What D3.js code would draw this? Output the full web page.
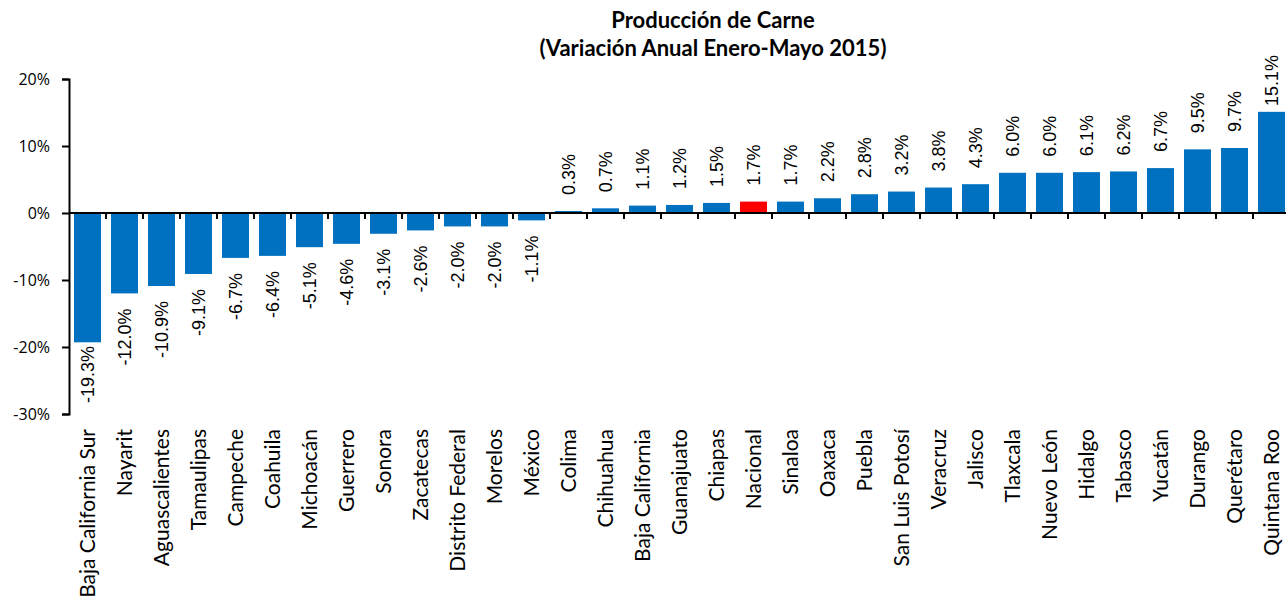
<!DOCTYPE html>
<html lang="es">
  <head>
    <meta charset="UTF-8" />
    <title>Producción de Carne</title>
    <script src="https://cdn.jsdelivr.net/npm/d3@7"></script>
    <style>
      body { margin: 0; background: #fff; }
      text { fill: #000; }
      .cat { font-family: Lato, sans-serif; font-size: 21px; }
      .val { font-family: "Liberation Sans", Arial, sans-serif; font-size: 18px; }
      .titulo { font-family: Lato, sans-serif; font-weight: bold; font-size: 22px; }
    </style>
  </head>
  <body>
    <svg id="chart" width="1286" height="602"></svg>
    <script>
      // data
      let estados = ["Baja California Sur", "Nayarit", "Aguascalientes", "Tamaulipas", "Campeche",
        "Coahuila", "Michoacán", "Guerrero", "Sonora", "Zacatecas", "Distrito Federal", "Morelos",
        "México", "Colima", "Chihuahua", "Baja California", "Guanajuato", "Chiapas", "Nacional",
        "Sinaloa", "Oaxaca", "Puebla", "San Luis Potosí", "Veracruz", "Jalisco", "Tlaxcala",
        "Nuevo León", "Hidalgo", "Tabasco", "Yucatán", "Durango", "Querétaro", "Quintana Roo"];
      let variacion = [-19.3, -12.0, -10.9, -9.1, -6.7, -6.4, -5.1, -4.6, -3.1, -2.6, -2.0, -2.0,
        -1.1, 0.3, 0.7, 1.1, 1.2, 1.5, 1.7, 1.7, 2.2, 2.8, 3.2, 3.8, 4.3, 6.0, 6.0, 6.1, 6.2, 6.7,
        9.5, 9.7, 15.1];
      let yTicks = [-30, -20, -10, 0, 10, 20];
      let titulo = ["Producción de Carne", "(Variación Anual Enero-Mayo 2015)"];

      let data = estados.map((d, i) => ({ estado: d, valor: variacion[i] }));

      let svg = d3.select("#chart");
      let margin = { left: 69, right: -4, top: 79, bottom: 188 };
      let W = 1286, H = 602;

      let x = d3.scaleBand()
        .domain(estados)
        .range([margin.left, W - margin.right])
        .paddingInner(0.27)
        .paddingOuter(0.135);

      let y = d3.scaleLinear()
        .domain([-30, 20])
        .range([H - margin.bottom, margin.top]);

      // title
      svg.append("g")
        .selectAll("text")
        .data(titulo)
        .join("text")
        .attr("class", "titulo")
        .attr("x", 713)
        .attr("y", (d, i) => 28 + i * 28)
        .attr("text-anchor", "middle")
        .text(d => d);

      // bars
      svg.append("g")
        .selectAll("rect")
        .data(data)
        .join("rect")
        .attr("x", d => x(d.estado))
        .attr("width", x.bandwidth())
        .attr("y", d => y(Math.max(0, d.valor)))
        .attr("height", d => Math.abs(y(d.valor) - y(0)))
        .attr("fill", d => d.estado === "Nacional" ? "#ff0000" : "#0070c0");

      // y axis
      let yAxis = svg.append("g")
        .attr("transform", `translate(${margin.left},0)`)
        .call(d3.axisLeft(y).tickValues(yTicks).tickSize(7).tickPadding(12)
          .tickFormat(d => d + "%"));
      yAxis.select(".domain").attr("stroke", "#000").attr("stroke-width", 2);
      yAxis.selectAll(".tick line").attr("stroke", "#000").attr("stroke-width", 2);
      yAxis.selectAll("text").style("font-size", "16px").style("font-family", "Open Sans").attr("fill", "#000");

      // x axis at zero, ticks between categories
      let gap = (x.step() - x.bandwidth()) / 2;
      let xLine = svg.append("g");
      xLine.append("line")
        .attr("x1", margin.left)
        .attr("x2", W)
        .attr("y1", y(0))
        .attr("y2", y(0))
        .attr("stroke", "#000")
        .attr("stroke-width", 2);
      xLine.selectAll(".sep")
        .data(estados.slice(1))
        .join("line")
        .attr("class", "sep")
        .attr("x1", d => x(d) - gap)
        .attr("x2", d => x(d) - gap)
        .attr("y1", y(0))
        .attr("y2", y(0) + 6)
        .attr("stroke", "#000")
        .attr("stroke-width", 2);

      // value labels (kept inside the plot area like Excel does)
      let topLimit = 55, bottomLimit = 403;
      svg.append("g")
        .selectAll("text")
        .data(data)
        .join("text")
        .attr("class", "val")
        .attr("text-anchor", d => d.valor >= 0 ? "start" : "end")
        .text(d => d.valor.toFixed(1) + "%")
        .attr("transform", function (d) {
          let len = this.getComputedTextLength();
          let cx = x(d.estado) + x.bandwidth() / 2 + 6;
          let cy = d.valor >= 0
            ? Math.max(y(d.valor) - 16, topLimit + len)
            : Math.min(y(d.valor) + 15, bottomLimit - len);
          return `translate(${cx},${cy}) rotate(-90)`;
        });

      // category labels
      svg.append("g")
        .selectAll("text")
        .data(estados)
        .join("text")
        .attr("class", "cat")
        .attr("transform", d => `translate(${x(d) + x.bandwidth() / 2 + 7},429) rotate(-90)`)
        .attr("text-anchor", "end")
        .text(d => d);
    </script>
  </body>
</html>
